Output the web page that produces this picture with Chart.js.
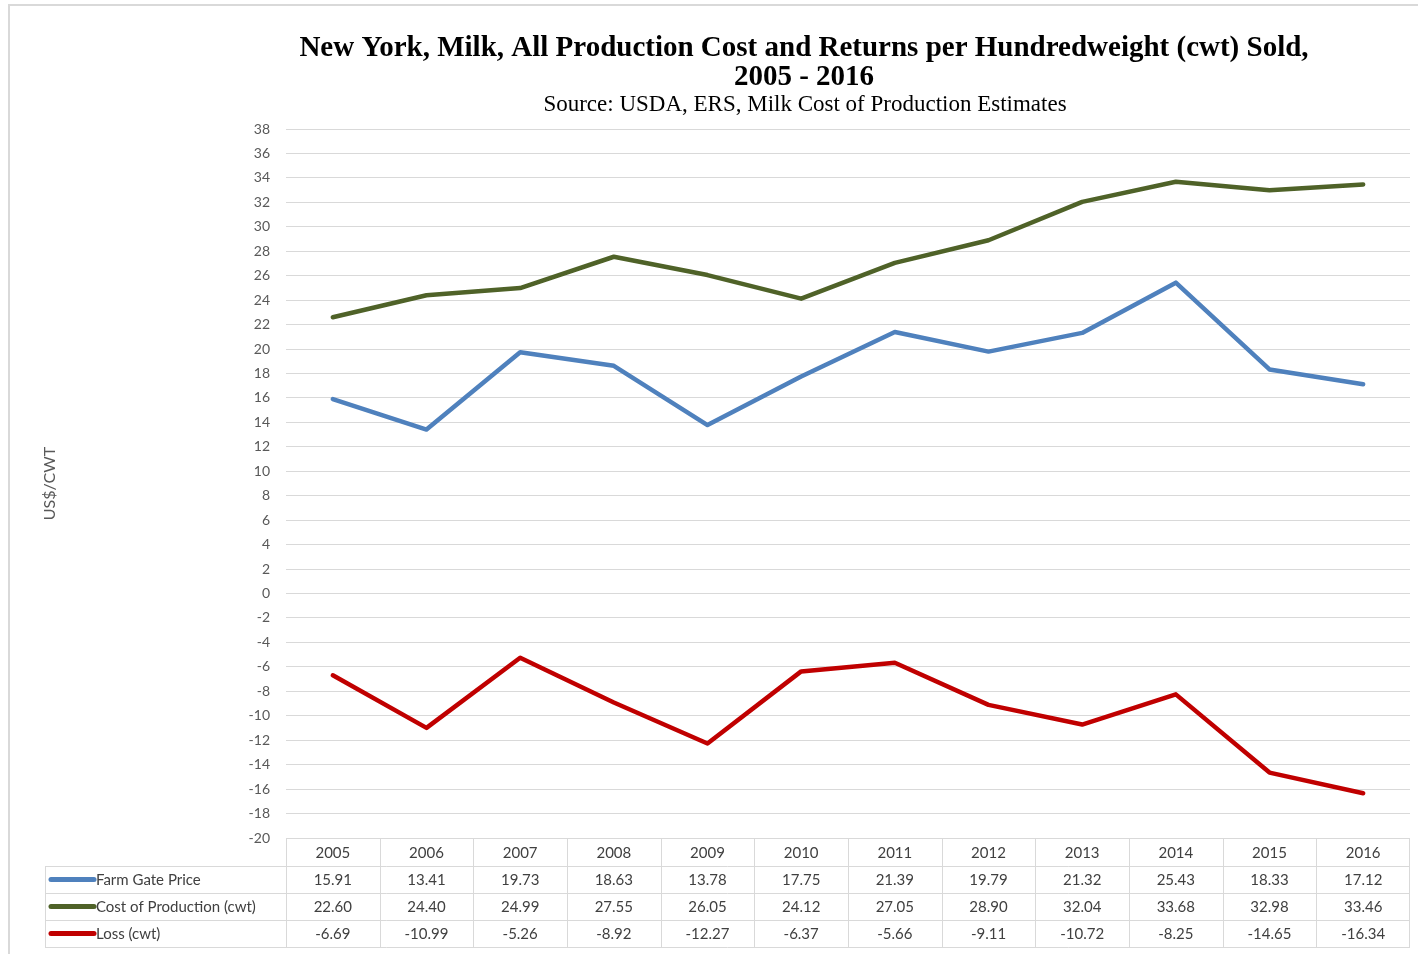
<!DOCTYPE html>
<html>
<head>
<meta charset="utf-8">
<script src="https://cdn.jsdelivr.net/npm/chart.js@4.4.1/dist/chart.umd.min.js"></script>
<style>
  html, body { margin: 0; padding: 0; background: #ffffff; }
  #wrap { position: relative; width: 1418px; height: 954px; }
</style>
</head>
<body>
<div id="wrap"><canvas id="c" width="1418" height="954"></canvas></div>
<script>
const years = ['2005','2006','2007','2008','2009','2010','2011','2012','2013','2014','2015','2016'];
const farmGatePrice = [15.91, 13.41, 19.73, 18.63, 13.78, 17.75, 21.39, 19.79, 21.32, 25.43, 18.33, 17.12];
const costOfProduction = [22.60, 24.40, 24.99, 27.55, 26.05, 24.12, 27.05, 28.90, 32.04, 33.68, 32.98, 33.46];
const loss = [-6.69, -10.99, -5.26, -8.92, -12.27, -6.37, -5.66, -9.11, -10.72, -8.25, -14.65, -16.34];
const seriesNames = ['Farm Gate Price', 'Cost of Production (cwt)', 'Loss (cwt)'];
const seriesColors = ['#4F81BD', '#4F6228', '#C00000'];
const yMin = -20, yMax = 38, yStep = 2;
const titleLines = ['New York, Milk, All Production Cost and Returns per Hundredweight (cwt) Sold,', '2005 - 2016'];
const subtitleText = 'Source: USDA, ERS, Milk Cost of Production Estimates';
const yAxisTitle = 'US$/CWT';

const sansFont = "Lato, 'Open Sans', 'Liberation Sans', sans-serif";
const serifFont = "'Liberation Serif', 'DejaVu Serif', serif";

const decorPlugin = {
  id: 'decor',
  beforeDraw(chart) {
    const ctx = chart.ctx;
    ctx.save();
    ctx.fillStyle = '#ffffff';
    ctx.fillRect(0, 0, chart.width, chart.height);
    ctx.strokeStyle = '#d9d9d9';
    ctx.lineWidth = 2;
    ctx.beginPath();
    ctx.moveTo(9, chart.height);
    ctx.lineTo(9, 5);
    ctx.lineTo(chart.width, 5);
    ctx.stroke();
    ctx.restore();
  },
  afterDraw(chart) {
    const ctx = chart.ctx;
    const xs = chart.scales.x;
    const area = chart.chartArea;
    ctx.save();
    // Title
    ctx.fillStyle = '#000000';
    ctx.textAlign = 'center';
    ctx.textBaseline = 'alphabetic';
    ctx.font = "bold 29px " + serifFont;
    ctx.fillText(titleLines[0], 804, 56);
    ctx.fillText(titleLines[1], 804, 85);
    ctx.font = "23px " + serifFont;
    ctx.fillText(subtitleText, 805, 111);

    // Data table
    const n = years.length;
    const step = (xs.getPixelForValue(1) - xs.getPixelForValue(0));
    const left = 45;
    const tLeft = area.left;
    const tRight = area.right;
    const rowsY = [area.bottom, 866, 893, 920, 947];
    ctx.strokeStyle = '#d9d9d9';
    ctx.lineWidth = 1;
    ctx.beginPath();
    ctx.moveTo(tLeft, rowsY[0] + 0.5); ctx.lineTo(tRight, rowsY[0] + 0.5);
    for (let r = 1; r < rowsY.length; r++) {
      ctx.moveTo(left, rowsY[r] + 0.5); ctx.lineTo(tRight, rowsY[r] + 0.5);
    }
    ctx.moveTo(left + 0.5, rowsY[1]); ctx.lineTo(left + 0.5, rowsY[4]);
    for (let i = 0; i <= n; i++) {
      const xp = Math.round(xs.getPixelForValue(i) - step / 2) + 0.5;
      const xx = i === n ? Math.round(tRight) - 0.5 : xp;
      ctx.moveTo(xx, rowsY[0]); ctx.lineTo(xx, rowsY[4]);
    }
    ctx.stroke();

    ctx.font = "15px " + sansFont;
    ctx.fillStyle = '#404040';
    ctx.textAlign = 'center';
    ctx.textBaseline = 'middle';
    const rowsData = [farmGatePrice, costOfProduction, loss];
    for (let i = 0; i < n; i++) {
      const cx = xs.getPixelForValue(i);
      ctx.fillText(years[i], cx, (rowsY[0] + rowsY[1]) / 2 + 1);
      for (let r = 0; r < 3; r++) {
        ctx.fillText(rowsData[r][i].toFixed(2), cx, (rowsY[r + 1] + rowsY[r + 2]) / 2 + 1);
      }
    }
    ctx.textAlign = 'left';
    for (let r = 0; r < 3; r++) {
      const cy = (rowsY[r + 1] + rowsY[r + 2]) / 2;
      ctx.strokeStyle = seriesColors[r];
      ctx.lineWidth = 5;
      ctx.lineCap = 'round';
      ctx.beginPath();
      ctx.moveTo(51, cy); ctx.lineTo(94, cy);
      ctx.stroke();
      ctx.fillStyle = '#404040';
      ctx.fillText(seriesNames[r], 96, cy + 1);
    }
    ctx.restore();
  }
};

const ctx = document.getElementById('c').getContext('2d');
new Chart(ctx, {
  type: 'line',
  data: {
    labels: years,
    datasets: [
      { label: seriesNames[0], data: farmGatePrice, borderColor: seriesColors[0], backgroundColor: seriesColors[0] },
      { label: seriesNames[1], data: costOfProduction, borderColor: seriesColors[1], backgroundColor: seriesColors[1] },
      { label: seriesNames[2], data: loss, borderColor: seriesColors[2], backgroundColor: seriesColors[2] }
    ]
  },
  options: {
    responsive: false,
    animation: false,
    devicePixelRatio: 1,
    elements: {
      line: { borderWidth: 4.5, tension: 0, borderCapStyle: 'round', borderJoinStyle: 'round' },
      point: { radius: 0, hoverRadius: 0 }
    },
    layout: { padding: { left: 0, right: 8, top: 129, bottom: 116 } },
    plugins: {
      legend: { display: false },
      title: { display: false },
      tooltip: { enabled: false }
    },
    scales: {
      x: {
        type: 'category',
        offset: true,
        display: false,
        grid: { display: false }
      },
      y: {
        min: yMin,
        max: yMax,
        afterFit(scale) { scale.width = 286; },
        ticks: {
          stepSize: yStep,
          autoSkip: false,
          padding: 16,
          color: '#595959',
          font: { family: sansFont, size: 14 }
        },
        grid: { color: '#d9d9d9', lineWidth: 1, drawTicks: false },
        border: { display: false },
        title: {
          display: true,
          text: yAxisTitle,
          color: '#595959',
          font: { family: sansFont, size: 16 },
          padding: { top: 40, bottom: 0 }
        }
      }
    }
  },
  plugins: [decorPlugin]
});
</script>
</body>
</html>
